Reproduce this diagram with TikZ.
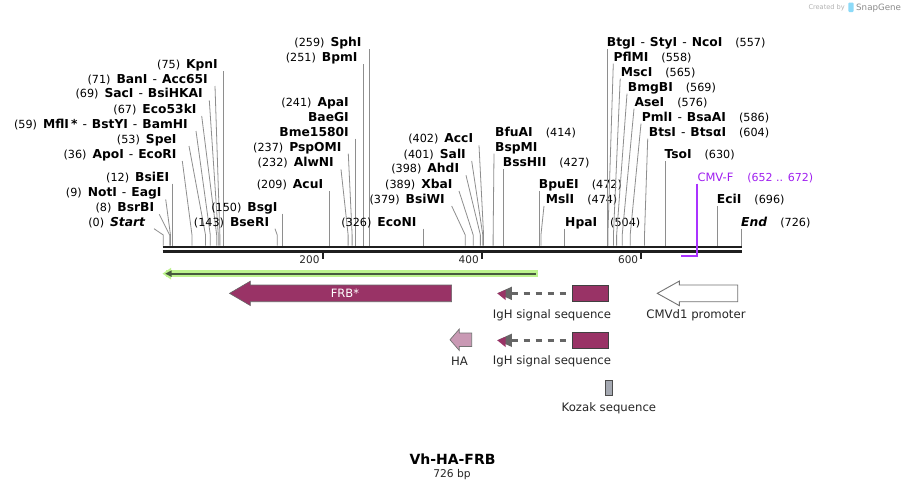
\documentclass[tikz,border=0pt]{standalone}
\usepackage{fontspec}
\setmainfont{DejaVu Sans}
\definecolor{mag}{HTML}{993366}
\definecolor{sitegray}{HTML}{8E8E8E}
\definecolor{purp}{HTML}{A020F0}
\definecolor{purpline}{HTML}{AA33FF}
\definecolor{lgreen}{HTML}{BDF38E}
\definecolor{dgreen}{HTML}{475A3E}
\definecolor{hapink}{HTML}{C999B4}
\definecolor{kozak}{HTML}{A5A9B2}
\definecolor{dgray}{HTML}{666666}
\tikzset{
  lbl/.style={font=\fontsize{12.3}{14}\selectfont, inner sep=0pt},
  siteline/.style={draw=sitegray, line width=0.8pt},
  featlbl/.style={font=\fontsize{11.7}{14}\selectfont, inner sep=0pt, text=black!85},
  ticklbl/.style={font=\fontsize{10.5}{12}\selectfont, inner sep=0pt, text=black!85},
}
\newcommand\bpx[1]{{163.3+0.7967*(#1)}}
\newcommand\nb[1]{{\fontsize{11.2}{13}\selectfont\mdseries #1}}
\newcommand\sepd{\hspace{5pt}{\mdseries -}\hspace{5pt}}
\newcommand\lsite[6]{%
  \node[lbl,anchor=base east] (#1) at (#2,#3+4.3) {#5};
  \coordinate (#1-t) at (#6,#3+7);
  \draw[siteline] (#1-t) -- (\bpx{#4},235) -- (\bpx{#4},245.7);}
\newcommand\rsite[6]{%
  \node[lbl,anchor=base west] (#1) at (#2,#3+4.3) {#5};
  \coordinate (#1-t) at (#6,#3+7);
  \draw[siteline] (#1-t) -- (\bpx{#4},235) -- (\bpx{#4},245.7);}
\begin{document}
\begin{tikzpicture}[x=1pt,y=-1pt]
\useasboundingbox (0,0) rectangle (905,490);
\fill[white] (0,0) rectangle (905,490);

% logo
\node[inner sep=0pt, anchor=base west, font=\fontsize{6.6}{8}\selectfont, text=black!30] (cb) at (808.3,9.7) {Created by};
\fill[cyan!45!white, rounded corners=1pt] (848.3,2.5) rectangle (853.5,12);
\node[inner sep=0pt, anchor=base west, font=\fontsize{8.7}{10}\selectfont, text=black!45] (sg) at (856,10.4) {SnapGene};

% left-side sites
\lsite{start}{145.7}{221.7}{0}{\nb{(0)}\hspace{6pt}\textbf{\textit{Start}}}{154}
\lsite{bsrbi}{154.3}{207.3}{8}{\nb{(8)}\hspace{6pt}\textbf{BsrBI}}{159.3}
\lsite{noti}{161.7}{192.3}{9}{\nb{(9)}\hspace{6pt}\textbf{NotI}\sepd\textbf{EagI}}{165.7}
\lsite{bsiei}{169.3}{176.7}{12}{\nb{(12)}\hspace{6pt}\textbf{BsiEI}}{\bpx{12}}
\lsite{apoi}{176.7}{154}{36}{\nb{(36)}\hspace{6pt}\textbf{ApoI}\sepd\textbf{EcoRI}}{182.3}
\lsite{spei}{176.7}{139}{53}{\nb{(53)}\hspace{6pt}\textbf{SpeI}}{189}
\lsite{mfli}{188}{124}{59}{\nb{(59)}\hspace{6pt}\textbf{MflI}\,\textbf{*}\sepd\textbf{BstYI}\sepd\textbf{BamHI}}{196}
\lsite{eco}{196.7}{109}{67}{\nb{(67)}\hspace{6pt}\textbf{Eco53kI}}{201.7}
\lsite{saci}{203}{93.3}{69}{\nb{(69)}\hspace{6pt}\textbf{SacI}\sepd\textbf{BsiHKAI}}{209.3}
\lsite{bani}{208}{79}{71}{\nb{(71)}\hspace{6pt}\textbf{BanI}\sepd\textbf{Acc65I}}{215}
\lsite{kpni}{218}{64.3}{75}{\nb{(75)}\hspace{6pt}\textbf{KpnI}}{\bpx{75}}
\lsite{bseri}{269.3}{221.7}{143}{\nb{(143)}\hspace{6pt}\textbf{BseRI}}{275}
\lsite{bsgi}{277.7}{206.7}{150}{\nb{(150)}\hspace{6pt}\textbf{BsgI}}{\bpx{150}}
\lsite{acui}{323.3}{184}{209}{\nb{(209)}\hspace{6pt}\textbf{AcuI}}{\bpx{209}}
\lsite{alwni}{334}{162.3}{232}{\nb{(232)}\hspace{6pt}\textbf{AlwNI}}{341}
\lsite{pspomi}{341.7}{146.7}{237}{\nb{(237)}\hspace{6pt}\textbf{PspOMI}}{348.3}
\node[lbl,anchor=base east] (apai) at (349,101.7+4.3) {\nb{(241)}\hspace{6pt}\textbf{ApaI}};
\node[lbl,anchor=base east] (baegi) at (349,117+4.3) {\textbf{BaeGI}};
\lsite{bme}{349}{131.7}{241}{\textbf{Bme1580I}}{\bpx{241}}
\lsite{bpmi}{357.7}{57.3}{251}{\nb{(251)}\hspace{6pt}\textbf{BpmI}}{\bpx{251}}
\lsite{sphi}{361.7}{42.3}{259}{\nb{(259)}\hspace{6pt}\textbf{SphI}}{\bpx{259}}
\lsite{econi}{416.7}{221.7}{326}{\nb{(326)}\hspace{6pt}\textbf{EcoNI}}{\bpx{326}}
\lsite{bsiwi}{445}{199}{379}{\nb{(379)}\hspace{6pt}\textbf{BsiWI}}{451.7}
\lsite{xbai}{452.7}{184}{389}{\nb{(389)}\hspace{6pt}\textbf{XbaI}}{459}
\lsite{ahdi}{459.3}{168.3}{398}{\nb{(398)}\hspace{6pt}\textbf{AhdI}}{466}
\lsite{sali}{466}{154}{401}{\nb{(401)}\hspace{6pt}\textbf{SalI}}{471.7}
\lsite{acci}{473.3}{138.3}{402}{\nb{(402)}\hspace{6pt}\textbf{AccI}}{479}

% right-side sites
\node[lbl,anchor=base west] (bfuai) at (495,131.7+4.3) {\textbf{BfuAI}\hspace{13pt}\nb{(414)}};
\rsite{bspmi}{495}{146.7}{414}{\textbf{BspMI}}{494}
\rsite{bsshii}{502.7}{162.3}{427}{\textbf{BssHII}\hspace{13pt}\nb{(427)}}{\bpx{427}}
\rsite{bpuei}{538.7}{184}{472}{\textbf{BpuEI}\hspace{13pt}\nb{(472)}}{\bpx{472}}
\rsite{msli}{545.7}{199}{474}{\textbf{MslI}\hspace{13pt}\nb{(474)}}{544}
\rsite{hpai}{565}{221.7}{504}{\textbf{HpaI}\hspace{13pt}\nb{(504)}}{\bpx{504}}
\rsite{btgi}{606.7}{42.3}{557}{\textbf{BtgI}\sepd\textbf{StyI}\sepd\textbf{NcoI}\hspace{13pt}\nb{(557)}}{\bpx{557}}
\rsite{pflmi}{613.3}{56.7}{558}{\textbf{PflMI}\hspace{13pt}\nb{(558)}}{613.3}
\rsite{msci}{620.7}{71.7}{565}{\textbf{MscI}\hspace{13pt}\nb{(565)}}{620.2}
\rsite{bmgbi}{627.7}{86.7}{569}{\textbf{BmgBI}\hspace{13pt}\nb{(569)}}{627}
\rsite{asei}{634.3}{101.7}{576}{\textbf{AseI}\hspace{13pt}\nb{(576)}}{634}
\rsite{pmli}{641.7}{116.7}{586}{\textbf{PmlI}\sepd\textbf{BsaAI}\hspace{13pt}\nb{(586)}}{641}
\rsite{btsi}{648.7}{131.7}{604}{\textbf{BtsI}\sepd\textbf{BtsαI}\hspace{13pt}\nb{(604)}}{647.7}
\rsite{tsoi}{664.3}{154}{630}{\textbf{TsoI}\hspace{13pt}\nb{(630)}}{\bpx{630}}
\rsite{ecii}{716.7}{199}{696}{\textbf{EciI}\hspace{13pt}\nb{(696)}}{\bpx{696}}
\rsite{endl}{741}{221.7}{726}{\textbf{\textit{End}}\hspace{13pt}\nb{(726)}}{\bpx{726}}

% CMV-F primer
\node[lbl,anchor=base west,text=purp,font=\fontsize{11.5}{14}\selectfont] (cmvf) at (697.3,176.7+4.3) {CMV-F\hspace{14pt}{\fontsize{11}{13}\selectfont(652 .. 672)}};
\coordinate (cmvf-t) at (697.3,183.5);
\coordinate (cmvf-e) at (681,255.6);

% backbone
\draw[line width=2.6pt, black!88] (162.7,247) -- (741.8,247);
\draw[line width=2.7pt, black!88] (162.7,251.35) -- (741.8,251.35);
\draw[draw=purpline, line width=1.9pt] (cmvf-t) -- (697.3,255.6) -- (cmvf-e);

% ticks
\foreach \t in {200,400,600}{
  \draw[line width=1.9pt, black!88] (\bpx{\t},252) -- (\bpx{\t},258.5);
  \node[ticklbl, anchor=base east] (tick\t) at ({163.3+0.7967*\t-3},263.2) {\t};
}

% green ORF arrow
\fill[lgreen] (166,270.3) rectangle (538.3,277);
\fill[lgreen] (162.5,273.65) -- (171,267.8) -- (171,279.5) -- cycle;
\fill[dgreen] (169,272.65) rectangle (535.7,274.65);
\fill[dgreen] (165.3,273.65) -- (171.5,270.4) -- (171.5,276.9) -- cycle;

% FRB*
\draw[fill=mag, draw=black!60, line width=0.6pt] (229.5,293.35) -- (250.4,281.1) -- (250.4,285) -- (451.6,285) -- (451.6,301.7) -- (250.4,301.7) -- (250.4,305.6) -- cycle;
\node[font=\fontsize{11.5}{14}\selectfont, text=white, inner sep=0pt] (frb) at (345,293) {FRB*};

% IgH signal sequence rows
\foreach \yy/\nm in {293.35/igha, 340.3/ighb}{
  \draw[fill=mag, draw=black!75, line width=0.6pt] (572.7,\yy-8.2) rectangle (608.3,\yy+8.2);
  \draw[dgray, line width=3.3pt, dash pattern=on 6pt off 6pt] (511.7,\yy) -- (567.7,\yy);
  \fill[dgray] (497.3,\yy) -- (511.9,\yy-6.7) -- (511.9,\yy+6.7) -- cycle;
  \fill[mag] (497.3,\yy) -- (505.5,\yy-3.5) -- (505.5,\yy+6.7) -- cycle;
}
\node[featlbl] (ighlbla) at (552,315) {IgH signal sequence};
\node[featlbl] (ighlblb) at (552,361.7) {IgH signal sequence};

% CMVd1 promoter
\draw[fill=white, draw=black!55, line width=0.9pt] (657.3,293.35) -- (679.3,281.1) -- (679.3,285) -- (737.7,285) -- (737.7,301.7) -- (679.3,301.7) -- (679.3,305.6) -- cycle;
\node[featlbl] (cmvlbl) at (696,315) {CMVd1 promoter};

% HA
\draw[fill=hapink, draw=black!55, line width=0.7pt] (450,339.75) -- (459.3,329) -- (459.3,333) -- (471.7,333) -- (471.7,346.5) -- (459.3,346.5) -- (459.3,350.5) -- cycle;
\node[featlbl] (halbl) at (459.5,361.7) {HA};

% Kozak
\draw[fill=kozak, draw=black!70, line width=0.6pt] (605,380) rectangle (612.6,395.7);
\node[featlbl] (kozlbl) at (608.9,408.3) {Kozak sequence};

% title
\node[inner sep=0pt, font=\fontsize{14}{16}\selectfont\bfseries] (title) at (452.5,459) {Vh-HA-FRB};
\node[inner sep=0pt, font=\fontsize{10.7}{12}\selectfont, text=black!85] (bp) at (452,474.3) {726 bp};
\end{tikzpicture}
\end{document}
